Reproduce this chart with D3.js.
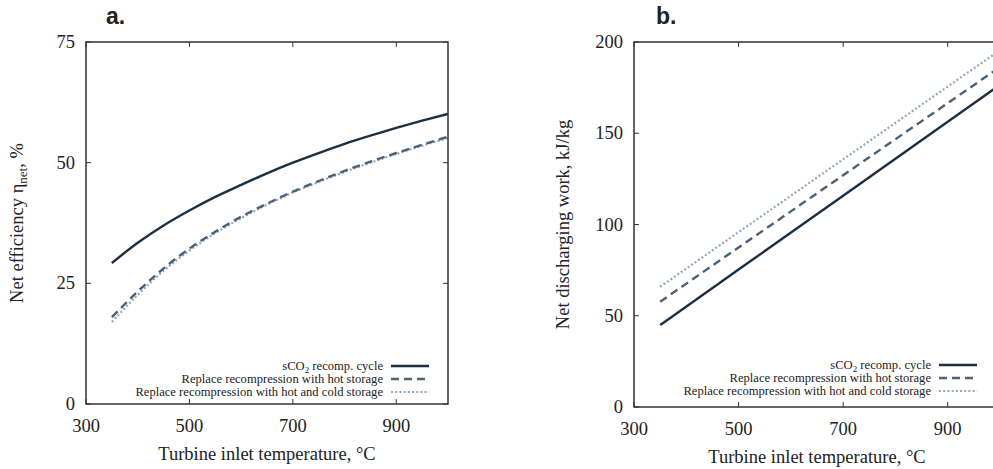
<!DOCTYPE html>
<html>
<head>
<meta charset="utf-8">
<script src="https://cdn.jsdelivr.net/npm/d3@7"></script>
<style>
  body { margin: 0; background: #fff; }
</style>
</head>
<body>
<div id="chart"></div>
<script>
// turbine inlet temperature, °C
const tempA = [350, 400, 450, 500, 550, 600, 650, 700, 750, 800, 850, 900, 950, 1000];
// panel a: net efficiency, %
const effRecomp = [29.2, 33.4, 37.0, 40.1, 42.9, 45.4, 47.8, 50.0, 52.0, 53.9, 55.6, 57.2, 58.7, 60.1];
const effHot    = [18.0, 23.3, 28.1, 32.2, 35.7, 38.8, 41.5, 44.0, 46.2, 48.3, 50.2, 52.0, 53.7, 55.4];
const effHotCold= [17.0, 22.6, 27.6, 31.8, 35.4, 38.5, 41.3, 43.8, 46.0, 48.1, 50.0, 51.8, 53.5, 55.1];

// panel b: net discharging work, kJ/kg
const tempB = [350, 500, 700, 900, 1000];
const workRecomp = [44.9, 75.3, 115.8, 156.3, 176.6];
const workHot    = [57.7, 87.4, 127.0, 166.5, 186.3];
const workHotCold= [65.9, 95.8, 135.7, 175.6, 195.5];

const seriesNames = ["Replace recompression with hot and cold storage", "Replace recompression with hot storage", "sCO2 recomp. cycle"];
const xTicks = [300, 500, 700, 900];
const yTicksA = [0, 25, 50, 75];
const yTicksB = [0, 50, 100, 150, 200];

const W = 993, H = 469;
const serif = "'Liberation Serif', 'DejaVu Serif', serif";
const styles = {
  recomp:  { stroke: "#1d2f42", width: 2.4, dash: null },
  hot:     { stroke: "#4c6177", width: 2.4, dash: "8,5" },
  hotcold: { stroke: "#95a7ba", width: 2.2, dash: "2,2.2" }
};

const svg = d3.select("#chart").append("svg")
  .attr("width", W).attr("height", H)
  .style("font-family", serif);

function txt(g) {
  return g.append("text").style("font-family", serif).style("fill", "#222");
}

function panel(opts) {
  const x = d3.scaleLinear().domain([300, 1000]).range([opts.left, opts.right]);
  const y = d3.scaleLinear().domain(opts.yDomain).range([opts.bottom, opts.top]);
  const g = svg.append("g");
  const clipId = "clip" + opts.id;
  g.append("clipPath").attr("id", clipId).append("rect")
    .attr("x", opts.left).attr("y", opts.top)
    .attr("width", opts.right - opts.left).attr("height", opts.bottom - opts.top);

  // ticks inward on all four sides
  const tick = 5;
  xTicks.forEach(t => {
    g.append("line").attr("x1", x(t)).attr("x2", x(t)).attr("y1", opts.bottom).attr("y2", opts.bottom - tick)
      .attr("stroke", "#333").attr("stroke-width", 1);
    g.append("line").attr("x1", x(t)).attr("x2", x(t)).attr("y1", opts.top).attr("y2", opts.top + tick)
      .attr("stroke", "#333").attr("stroke-width", 1);
    txt(g).attr("x", x(t)).attr("y", opts.bottom + 28)
      .attr("text-anchor", "middle").attr("font-size", 18.5).text(t);
  });
  opts.yTicks.forEach(t => {
    g.append("line").attr("x1", opts.left).attr("x2", opts.left + tick).attr("y1", y(t)).attr("y2", y(t))
      .attr("stroke", "#333").attr("stroke-width", 1);
    g.append("line").attr("x1", opts.right).attr("x2", opts.right - tick).attr("y1", y(t)).attr("y2", y(t))
      .attr("stroke", "#333").attr("stroke-width", 1);
    txt(g).attr("x", opts.left - 11).attr("y", y(t) + 6)
      .attr("text-anchor", "end").attr("font-size", 18.5).text(t);
  });

  const line = d3.line().x(d => x(d[0])).y(d => y(d[1])).curve(d3.curveMonotoneX);
  const series = [
    { vals: opts.hotcold, st: styles.hotcold },
    { vals: opts.hot, st: styles.hot },
    { vals: opts.recomp, st: styles.recomp }
  ];
  series.forEach(s => {
    g.append("path")
      .datum(opts.temps.map((t, i) => [t, s.vals[i]]))
      .attr("clip-path", `url(#${clipId})`)
      .attr("d", line)
      .attr("fill", "none")
      .attr("stroke", s.st.stroke)
      .attr("stroke-width", s.st.width)
      .attr("stroke-dasharray", s.st.dash);
  });

  // frame
  g.append("rect").attr("x", opts.left).attr("y", opts.top)
    .attr("width", opts.right - opts.left).attr("height", opts.bottom - opts.top)
    .attr("fill", "none").attr("stroke", "#333").attr("stroke-width", 1.5);

  // legend
  const legRows = [
    { name: seriesNames[2], st: styles.recomp },
    { name: seriesNames[1], st: styles.hot },
    { name: seriesNames[0], st: styles.hotcold }
  ];
  legRows.forEach((r, i) => {
    const ly = opts.legTop + i * 13;
    const t = txt(g).attr("x", opts.legX - 8).attr("y", ly + 4)
      .attr("text-anchor", "end").attr("font-size", 12.6);
    if (r.name.startsWith("sCO2")) {
      t.append("tspan").text("sCO");
      t.append("tspan").attr("font-size", 9).attr("dy", 2.5).text("2");
      t.append("tspan").attr("dy", -2.5).text(" recomp. cycle");
    } else {
      t.text(r.name);
    }
    g.append("line").attr("x1", opts.legX).attr("x2", opts.legX + 38)
      .attr("y1", ly).attr("y2", ly)
      .attr("stroke", r.st.stroke).attr("stroke-width", r.st.width)
      .attr("stroke-dasharray", r.st.dash);
  });

  // axis titles
  txt(g).attr("x", (opts.left + opts.right) / 2).attr("y", opts.bottom + 56)
    .attr("text-anchor", "middle").attr("font-size", 18.5).text("Turbine inlet temperature, °C");
  const yt = txt(g)
    .attr("transform", `translate(${opts.yTitleX},${(opts.top + opts.bottom) / 2}) rotate(-90)`)
    .attr("text-anchor", "middle").attr("font-size", 18.5);
  opts.yTitle(yt);

  svg.append("text").attr("x", opts.tagX).attr("y", 24)
    .style("font-family", "'Liberation Sans', Arial, sans-serif")
    .attr("font-weight", "bold").attr("font-size", 23).style("fill", "#222").text(opts.tag);
}

panel({
  id: "a", left: 86, right: 448, top: 42, bottom: 404,
  yDomain: [0, 75], yTicks: yTicksA, temps: tempA,
  recomp: effRecomp, hot: effHot, hotcold: effHotCold,
  legX: 391, legTop: 366, yTitleX: 23, tagX: 106, tag: "a.",
  yTitle: t => {
    t.append("tspan").text("Net efficiency η");
    t.append("tspan").attr("font-size", 13).attr("dy", 4).text("net");
    t.append("tspan").attr("dy", -4).text(", %");
  }
});

panel({
  id: "b", left: 634, right: 1000, top: 42, bottom: 407,
  yDomain: [0, 200], yTicks: yTicksB, temps: tempB,
  recomp: workRecomp, hot: workHot, hotcold: workHotCold,
  legX: 939, legTop: 365, yTitleX: 569, tagX: 656, tag: "b.",
  yTitle: t => t.text("Net discharging work, kJ/kg")
});
</script>
</body>
</html>
